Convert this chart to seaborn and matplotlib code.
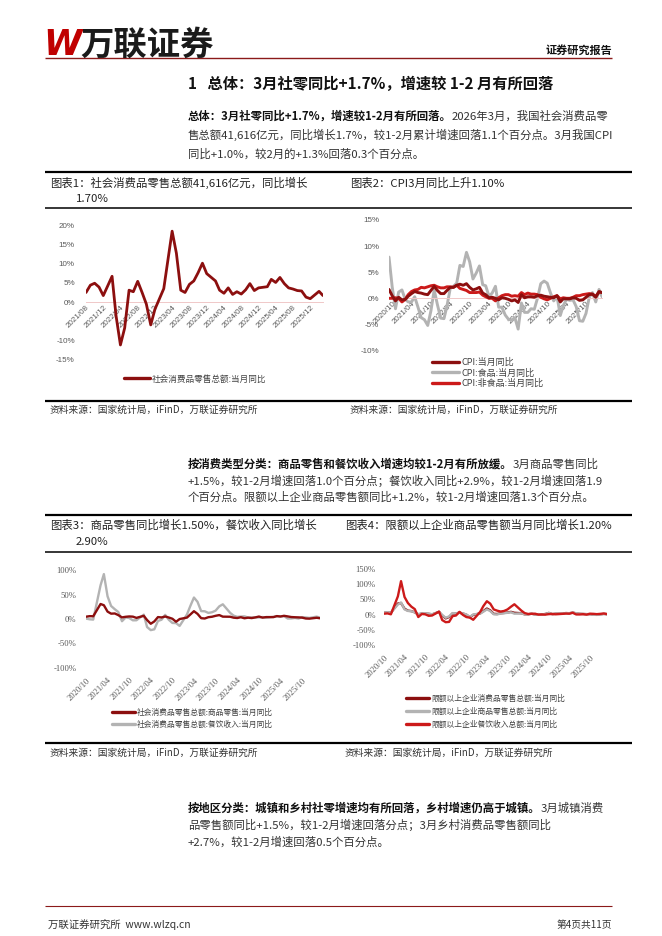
import matplotlib
matplotlib.use("Agg")
import matplotlib.pyplot as plt
from matplotlib.lines import Line2D
import pandas as pd
import seaborn as sns

W, H = 662, 936

sns.set_style("white")
plt.rcParams["font.family"] = ["Noto Sans CJK SC", "DejaVu Sans"]
plt.rcParams["axes.unicode_minus"] = False


def months(start, end, skip_jan=True):
    d = pd.date_range(start, end, freq="MS")
    if skip_jan:
        d = d[d.month != 1]
    return d


# ---- chart 1: retail sales yoy (Jan folded into Feb)
retail_dates = months("2021-08-01", "2026-03-01")
retail_yoy = [2.5, 4.4, 4.9, 3.9, 1.7,
              6.7, -3.5, -11.1, -6.7, 3.1, 2.7, 5.4, 2.5, -0.5, -5.9, -1.8,
              3.5, 10.6, 18.4, 12.7, 3.1, 2.5, 4.6, 5.5, 7.6, 10.1, 7.4,
              5.5, 3.1, 2.3, 3.7, 2.0, 2.7, 2.1, 3.2, 4.8, 3.0, 3.7,
              4.0, 5.9, 5.1, 6.4, 4.8, 3.7, 3.4, 3.0, 2.9, 1.3, 0.9,
              2.8, 1.7]
retail_names = ["社会消费品零售总额:当月同比"]
retail_ticks = ["2021/08", "2021/12", "2022/04", "2022/08", "2022/12", "2023/04", "2023/08",
                "2023/12", "2024/04", "2024/08", "2024/12", "2025/04", "2025/08", "2025/12"]

# ---- chart 2: CPI
cpi_dates = months("2020-09-01", "2026-03-01", skip_jan=False)
cpi_all = [1.7, 0.5, -0.5, 0.2,
           -0.3, -0.2, 0.4, 0.9, 1.3, 1.1, 1.0, 0.8, 0.7, 1.5, 2.3, 1.5,
           0.9, 0.9, 1.5, 2.1, 2.1, 2.5, 2.7, 2.5, 2.8, 2.1, 1.6, 1.8,
           2.1, 1.0, 0.7, 0.1, 0.2, 0.0, -0.3, 0.1, 0.0, -0.2, -0.5, -0.3,
           -0.8, 0.7, 0.1, 0.3, 0.3, 0.2, 0.5, 0.6, 0.4, 0.3, 0.2, 0.1,
           0.5, -0.7, -0.1, -0.1, -0.1, 0.1, 0.0, -0.4, -0.3, 0.2, 0.7, 0.8,
           0.2, 1.3, 1.1]
cpi_food = [7.9, 2.2, -2.0, 1.2,
            1.6, -0.2, -0.7, -0.7, 0.3, -1.7, -3.7, -4.1, -5.2, -2.4, 1.6, -1.2,
            -3.8, -3.9, -1.5, 1.9, 2.3, 2.9, 6.3, 6.1, 8.8, 7.0, 3.7, 4.8,
            6.2, 2.6, 2.4, 0.4, 1.0, 2.3, -1.7, -1.7, -3.2, -4.0, -4.2, -3.7,
            -5.9, -0.9, -2.7, -2.7, -2.0, -2.1, 0.0, 2.8, 3.3, 2.9, 1.0, -0.5,
            0.4, -3.3, -1.4, -0.2, -0.4, -0.3, -1.6, -4.3, -4.4, -2.9, 0.2, 1.1,
            -0.7, 1.7, 0.3]
cpi_nonfood = [0.0, 0.0, 0.1, 0.0,
               -0.7, -0.2, 0.7, 1.3, 1.6, 1.7, 2.1, 2.0, 2.2, 2.4, 2.5, 2.2,
               2.0, 2.0, 2.2, 2.2, 2.1, 2.5, 1.9, 1.7, 1.5, 1.1, 1.1, 1.1,
               1.2, 0.6, 0.3, 0.0, 0.0, -0.5, 0.1, 0.5, 0.7, 0.7, 0.4, 0.5,
               0.4, 1.1, 0.7, 1.0, 0.8, 0.8, 0.7, 0.2, -0.1, -0.3, 0.0, 0.3,
               0.5, -0.1, 0.1, 0.0, 0.0, 0.2, 0.5, 0.5, 0.7, 0.8, 0.9, 0.8,
               0.4, 1.2, 1.1]
cpi_names = ["CPI:当月同比", "CPI:食品:当月同比", "CPI:非食品:当月同比"]
half_year_ticks = ["2020/10", "2021/04", "2021/10", "2022/04", "2022/10", "2023/04",
                   "2023/10", "2024/04", "2024/10", "2025/04", "2025/10"]

# ---- chart 3: goods vs catering
type_dates = months("2020-10-01", "2026-03-01")
goods_yoy = [4.7, 5.8, 5.6,
             30.6, 28.1, 15.1, 10.9, 11.3, 7.9, 3.3, 4.5, 5.2, 4.8, 2.3,
             6.5, -2.1, -9.7, -5.0, 3.9, 3.2, 5.1, 3.0, 0.5, -5.6, -0.1,
             2.9, 9.1, 15.9, 10.5, 1.7, 1.0, 3.7, 4.6, 6.5, 8.0, 4.8,
             4.6, 2.7, 2.0, 3.6, 1.5, 2.7, 1.9, 3.3, 5.0, 2.8, 3.9,
             3.9, 5.9, 5.1, 6.5, 5.3, 4.0, 3.6, 3.3, 2.8, 1.0, 0.7,
             2.5, 1.5]
catering_yoy = [0.8, -0.6, -1.2,
                68.9, 91.6, 46.4, 26.6, 20.0, 14.3, -4.5, 3.1, 2.0, -2.7, -2.6,
                8.9, -16.4, -22.7, -21.1, -4.0, -1.5, 8.4, -1.7, -8.1, -8.4, -14.1,
                9.2, 26.3, 43.8, 35.1, 16.1, 15.8, 12.4, 13.8, 17.1, 25.8, 30.0,
                12.5, 6.9, 4.4, 5.0, 5.4, 3.0, 3.3, 3.1, 3.2, 4.0, 2.7,
                4.3, 5.6, 5.2, 5.9, 0.9, 1.1, 2.1, 0.9, 3.8, 3.2, 2.2,
                4.8, 2.9]
type_names = ["社会消费品零售总额:商品零售:当月同比", "社会消费品零售总额:餐饮收入:当月同比"]

# ---- chart 4: above-quota enterprises
quota_total = [6.0, 7.5, 6.0,
               36.5, 38.0, 19.5, 13.0, 11.5, 7.5, 0.5, 3.5, 4.0, 2.5, 0.5,
               9.0, -3.0, -12.5, -8.0, 4.0, 3.5, 6.5, 3.5, -0.5, -8.5, -1.0,
               4.0, 11.5, 20.0, 14.0, 2.5, 2.0, 4.5, 5.5, 7.0, 9.0, 6.0,
               4.5, 1.0, 1.0, 3.0, 0.5, 1.5, 0.5, 2.0, 5.5, 1.5, 3.0,
               3.0, 5.0, 4.5, 6.5, 4.0, 2.5, 2.0, 1.5, 1.5, 0.0, -0.5,
               2.5, 1.2]
quota_goods = [6.5, 8.0, 6.5,
               33.0, 40.0, 17.0, 12.0, 11.0, 7.5, 1.5, 4.0, 4.5, 3.5, 1.0,
               9.0, -1.0, -10.5, -6.0, 5.0, 4.0, 6.0, 4.0, 0.5, -7.5, 0.5,
               3.5, 9.5, 17.0, 11.5, 1.0, 0.5, 3.5, 4.5, 6.0, 7.5, 3.0,
               4.0, 0.5, 1.0, 3.0, 0.0, 1.5, 0.5, 2.0, 5.5, 1.5, 3.0,
               3.0, 5.0, 4.5, 6.5, 4.5, 3.0, 2.0, 1.5, 1.5, -0.5, -1.0,
               2.0, 1.2]
quota_catering = [3.0, 4.0, 1.0,
                  60.0, 110.0, 58.0, 38.0, 26.0, 18.0, -8.0, 2.0, 1.0, -4.0, -3.0,
                  10.0, -18.0, -25.0, -24.0, -5.0, -3.0, 9.0, -1.0, -8.0, -10.0, -17.0,
                  9.0, 28.0, 44.0, 36.0, 17.0, 13.0, 10.0, 12.0, 17.0, 26.0, 34.0,
                  13.0, 5.0, 2.0, 2.5, 3.0, 0.0, 0.5, 0.0, 1.5, 2.0, 1.0,
                  2.5, 3.5, 3.0, 6.0, 0.5, 0.5, 1.5, 0.0, 3.0, 2.5, 1.5,
                  3.5, 2.0]
quota_names = ["限额以上企业消费品零售总额:当月同比", "限额以上企业商品零售总额:当月同比",
               "限额以上企业餐饮收入总额:当月同比"]

DARK_RED = "#8c0f0f"
RED = "#cc1a1a"
GREY = "#b3b3b3"

fig = plt.figure(figsize=(W / 100, H / 100), dpi=100)
renderer = fig.canvas.get_renderer()


def fx(x):
    return x / W


def fy(y):
    return 1 - y / H


def put(x, y, s, size, color="#222222", ha="left", **kw):
    return fig.text(fx(x), fy(y), s, fontsize=size, va="center", ha=ha, color=color, **kw)


def para_line(x, y, parts, size=8.2):
    for s, bold in parts:
        t = put(x, y, s, size, color="#111111" if bold else "#333333",
                fontweight="bold" if bold else "normal")
        x += t.get_window_extent(renderer).width


def hline(x0, x1, y, lw, color="black"):
    fig.add_artist(Line2D([fx(x0), fx(x1)], [fy(y), fy(y)], transform=fig.transFigure,
                          color=color, lw=lw, solid_capstyle="butt"))


def px_axes(l, t, r, b):
    return fig.add_axes([fx(l), fy(b), (r - l) / W, (b - t) / H])


def draw(ax, dates, series, names, colors, widths, zorders, ylim, yticks, xticks,
         tick_font, tick_size, ypad, on_zero, xpad):
    df = pd.concat([pd.DataFrame({"date": dates, "value": v, "series": n})
                    for n, v in zip(names, series)])
    sns.lineplot(data=df, x="date", y="value", hue="series", hue_order=names,
                 palette=colors, legend=False, estimator=None, ax=ax)
    for line, lw, z in zip(ax.lines, widths, zorders):
        line.set_linewidth(lw)
        line.set_zorder(z)
        line.set_solid_joinstyle("round")
    ax.set(xlabel="", ylabel="")
    # spine position first: moving it resets the tick labels
    for side in ["top", "right", "left", "bottom"]:
        ax.spines[side].set_visible(False)
    if on_zero:
        ax.spines["bottom"].set_visible(True)
        ax.spines["bottom"].set_position(("data", 0))
        ax.spines["bottom"].set_color("#f0c8c8")
        ax.spines["bottom"].set_linewidth(0.7)
    ax.set_xlim(dates[0], dates[-1])
    ax.set_ylim(*ylim)
    ax.set_yticks(yticks)
    ax.set_yticklabels([f"{t}%" for t in yticks])
    ax.set_xticks(pd.to_datetime(xticks, format="%Y/%m"))
    ax.set_xticklabels(xticks, rotation=45, ha="right", va="top", rotation_mode="anchor")
    ax.tick_params(axis="y", length=0, pad=ypad, labelsize=tick_size, labelcolor="#595959")
    ax.tick_params(axis="x", length=0, pad=xpad, labelsize=tick_size, labelcolor="#595959")
    for lab in ax.get_xticklabels() + ax.get_yticklabels():
        lab.set_fontfamily(tick_font)
    ax.patch.set_alpha(0)


def legend(ax, names, colors, x, y, size, spacing):
    handles = [Line2D([], [], color=c, lw=2.4) for c in colors]
    ax.legend(handles, names, loc="center left", bbox_to_anchor=(fx(x), fy(y)),
              bbox_transform=fig.transFigure, frameon=False, fontsize=size,
              handlelength=3.0, handletextpad=0.25, labelspacing=spacing,
              borderpad=0, borderaxespad=0, labelcolor="#404040")


# ---- page header
put(43, 45, "W", 25, color="#c00000", fontweight="bold", style="italic", family="DejaVu Sans")
put(80, 45, "万联证券", 24, color="#1a1a1a", fontweight="heavy")
put(612, 50, "证券研究报告", 8, color="#111111", ha="right", fontweight="bold")
hline(45, 612, 58, 1.0, "#8b1a1a")

put(188, 84, "1   总体：3月社零同比+1.7%，增速较 1-2 月有所回落", 11,
    color="#111111", fontweight="bold")

para_line(188, 116, [("总体：3月社零同比+1.7%，增速较1-2月有所回落。", True),
                     ("2026年3月，我国社会消费品零", False)])
para_line(188, 135, [("售总额41,616亿元，同比增长1.7%，较1-2月累计增速回落1.1个百分点。3月我国CPI", False)])
para_line(188, 154, [("同比+1.0%，较2月的+1.3%回落0.3个百分点。", False)])

# ---- first chart frame
hline(45, 632, 172, 1.6)
hline(45, 632, 208, 1.1)
hline(45, 632, 401, 1.6)
put(50, 183, "图表1：社会消费品零售总额41,616亿元，同比增长", 8.2)
put(76, 199, "1.70%", 8.2)
put(350, 183, "图表2：CPI3月同比上升1.10%", 8.2)
put(50, 410, "资料来源：国家统计局，iFinD，万联证券研究所", 7, color="#333333", style="italic")
put(350, 410, "资料来源：国家统计局，iFinD，万联证券研究所", 7, color="#333333", style="italic")

ax1 = px_axes(86, 225, 323, 360)
draw(ax1, retail_dates, [retail_yoy], retail_names, [DARK_RED], [2.0], [3],
     (-15, 20), [-15, -10, 0, 5, 10, 15, 20], retail_ticks,
     "Liberation Sans", 5.8, 8, True, 1.5)
legend(ax1, retail_names, [DARK_RED], 124, 379, 6.2, 0.4)

ax2 = px_axes(389, 220, 602, 350.5)
draw(ax2, cpi_dates, [cpi_all, cpi_food, cpi_nonfood], cpi_names,
     [DARK_RED, GREY, RED], [2.1, 2.1, 2.1], [4, 2, 3],
     (-10, 15), [-10, -5, 0, 5, 10, 15], half_year_ticks,
     "Liberation Sans", 5.8, 7, True, 1.5)
legend(ax2, cpi_names, [DARK_RED, GREY, RED], 432, 373, 6.5, 0.15)

# ---- second paragraph
para_line(188, 464, [("按消费类型分类：商品零售和餐饮收入增速均较1-2月有所放缓。", True),
                     ("3月商品零售同比", False)])
para_line(188, 481, [("+1.5%，较1-2月增速回落1.0个百分点；餐饮收入同比+2.9%，较1-2月增速回落1.9", False)])
para_line(188, 497, [("个百分点。限额以上企业商品零售额同比+1.2%，较1-2月增速回落1.3个百分点。", False)])

# ---- second chart frame
hline(45, 632, 515, 1.6)
hline(45, 632, 552, 1.1)
hline(45, 632, 743, 1.6)
put(50, 525, "图表3：商品零售同比增长1.50%，餐饮收入同比增长", 8.2)
put(76, 542, "2.90%", 8.2)
put(345, 525, "图表4：限额以上企业商品零售额当月同比增长1.20%", 8.2)
put(50, 753, "资料来源：国家统计局，iFinD，万联证券研究所", 7, color="#333333", style="italic")
put(345, 753, "资料来源：国家统计局，iFinD，万联证券研究所", 7, color="#333333", style="italic")

ax3 = px_axes(86, 570, 320, 668)
draw(ax3, type_dates, [goods_yoy, catering_yoy], type_names,
     [DARK_RED, GREY], [1.7, 1.7], [3, 2],
     (-100, 100), [-100, -50, 0, 50, 100], half_year_ticks,
     "Liberation Serif", 6.2, 7, False, 6)
legend(ax3, type_names, [DARK_RED, GREY], 112, 718.5, 5.6, 0.45)

ax4 = px_axes(384, 569, 607, 645)
draw(ax4, type_dates, [quota_total, quota_goods, quota_catering], quota_names,
     [DARK_RED, GREY, RED], [1.7, 1.7, 1.7], [2, 3, 4],
     (-100, 150), [-100, -50, 0, 50, 100, 150], half_year_ticks,
     "Liberation Serif", 6.2, 6, False, 6)
legend(ax4, quota_names, [DARK_RED, GREY, RED], 406, 711.5, 5.6, 0.6)

# ---- third paragraph
para_line(188, 808, [("按地区分类：城镇和乡村社零增速均有所回落，乡村增速仍高于城镇。", True),
                     ("3月城镇消费", False)])
para_line(188, 825, [("品零售额同比+1.5%，较1-2月增速回落分点；3月乡村消费品零售额同比", False)])
para_line(188, 842, [("+2.7%，较1-2月增速回落0.5个百分点。", False)])

# ---- footer
hline(45, 612, 906, 0.8, "#8b1a1a")
put(48, 925, "万联证券研究所  www.wlzq.cn", 7.5, color="#333333")
put(612, 925, "第4页共11页", 7, color="#333333", ha="right")

fig.savefig("out.png", dpi=100, facecolor="white")
